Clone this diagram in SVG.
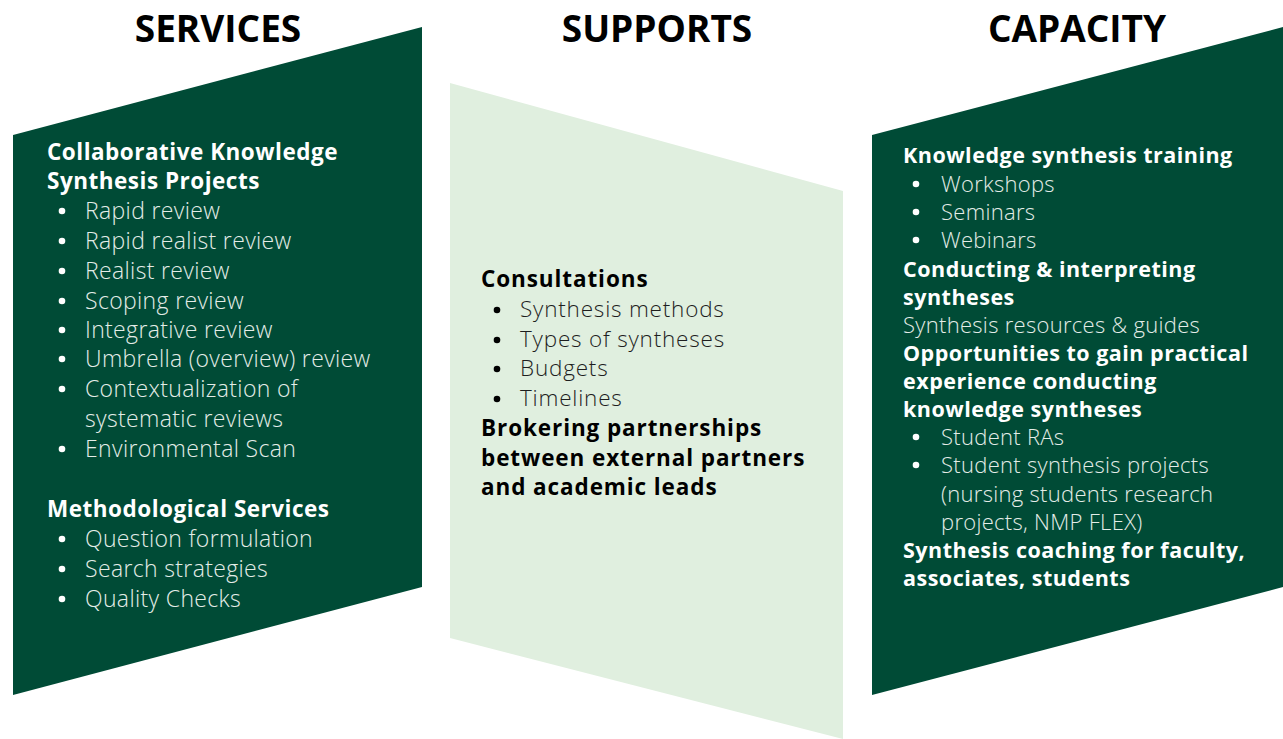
<svg xmlns="http://www.w3.org/2000/svg" width="1283" height="739" viewBox="0 0 1283 739">
<style>
.title{font-family:"Open Sans","Liberation Sans",sans-serif;font-weight:700;font-size:37px;fill:#000;text-anchor:middle}
.h{font-family:"Open Sans","Liberation Sans",sans-serif;font-weight:700}
.hl{font-size:22.5px;letter-spacing:0.5px}
.hm{font-size:22.5px;letter-spacing:0.9px}
.hr{font-size:21.5px;letter-spacing:0.5px}
.b{font-family:"Open Sans","Liberation Sans",sans-serif;font-weight:300}
.bl{font-size:23px;letter-spacing:0.35px}
.bm{font-size:22.5px;letter-spacing:0.8px}
.br{font-size:22px;letter-spacing:0.3px}
.w{fill:#ffffff}
.lw{fill:#e4ede8}
.k{fill:#000}
.dk{fill:#1e1e1e}
.dark{fill:#004b36}
.light{fill:#e0efdf}
</style>
<rect width="1283" height="739" fill="#fff"/>
<g id="titles">
<text class="title" x="218" y="42">SERVICES</text>
<text class="title" x="657" y="42">SUPPORTS</text>
<text class="title" x="1077" y="42">CAPACITY</text>
</g>
<g id="services">
<polygon class="dark" points="13,135 422,27 422,587 13,695"/>
<text class="h hl w" x="47" y="160">Collaborative Knowledge</text>
<text class="h hl w" x="47" y="189">Synthesis Projects</text>
<g class="w">
<circle cx="62" cy="211" r="3.3"/><circle cx="62" cy="241" r="3.3"/><circle cx="62" cy="271" r="3.3"/>
<circle cx="62" cy="301" r="3.3"/><circle cx="62" cy="330" r="3.3"/><circle cx="62" cy="359" r="3.3"/>
<circle cx="62" cy="389" r="3.3"/><circle cx="62" cy="449" r="3.3"/>
<circle cx="62" cy="539" r="3.3"/><circle cx="62" cy="569" r="3.3"/><circle cx="62" cy="599" r="3.3"/>
</g>
<g class="b bl lw">
<text x="85" y="219">Rapid review</text>
<text x="85" y="249">Rapid realist review</text>
<text x="85" y="279">Realist review</text>
<text x="85" y="309">Scoping review</text>
<text x="85" y="338">Integrative review</text>
<text x="85" y="367">Umbrella (overview) review</text>
<text x="85" y="397">Contextualization of</text>
<text x="85" y="427">systematic reviews</text>
<text x="85" y="457">Environmental Scan</text>
</g>
<text class="h hl w" x="47" y="517">Methodological Services</text>
<g class="b bl lw">
<text x="85" y="547">Question formulation</text>
<text x="85" y="577">Search strategies</text>
<text x="85" y="607">Quality Checks</text>
</g>
</g>
<g id="supports">
<polygon class="light" points="450,83 843,191 843,739 450,638"/>
<text class="h hm k" x="481" y="287">Consultations</text>
<g class="k">
<circle cx="497" cy="310" r="3.3"/><circle cx="497" cy="340" r="3.3"/>
<circle cx="497" cy="369" r="3.3"/><circle cx="497" cy="399" r="3.3"/>
</g>
<g class="b bm dk">
<text x="520" y="317">Synthesis methods</text>
<text x="520" y="347">Types of syntheses</text>
<text x="520" y="376">Budgets</text>
<text x="520" y="406">Timelines</text>
</g>
<text class="h hm k" x="481" y="436">Brokering partnerships</text>
<text class="h hm k" x="481" y="466">between external partners</text>
<text class="h hm k" x="481" y="495">and academic leads</text>
</g>
<g id="capacity">
<polygon class="dark" points="872,135 1283,27 1283,587 872,695"/>
<text class="h hr w" x="903" y="163">Knowledge synthesis training</text>
<g class="w">
<circle cx="916" cy="184" r="3.3"/><circle cx="916" cy="212" r="3.3"/><circle cx="916" cy="240" r="3.3"/>
<circle cx="916" cy="437" r="3.3"/><circle cx="916" cy="465" r="3.3"/>
</g>
<g class="b br lw">
<text x="941" y="192">Workshops</text>
<text x="941" y="220">Seminars</text>
<text x="941" y="248">Webinars</text>
</g>
<text class="h hr w" x="903" y="277">Conducting &amp; interpreting</text>
<text class="h hr w" x="903" y="305">syntheses</text>
<text class="b br lw" x="903" y="333">Synthesis resources &amp; guides</text>
<text class="h hr w" x="903" y="361">Opportunities to gain practical</text>
<text class="h hr w" x="903" y="389">experience conducting</text>
<text class="h hr w" x="903" y="417">knowledge syntheses</text>
<g class="b br lw">
<text x="941" y="445">Student RAs</text>
<text x="941" y="473">Student synthesis projects</text>
<text x="941" y="502">(nursing students research</text>
<text x="941" y="530">projects, NMP FLEX)</text>
</g>
<text class="h hr w" x="903" y="558">Synthesis coaching for faculty,</text>
<text class="h hr w" x="903" y="586">associates, students</text>
</g>
</svg>
